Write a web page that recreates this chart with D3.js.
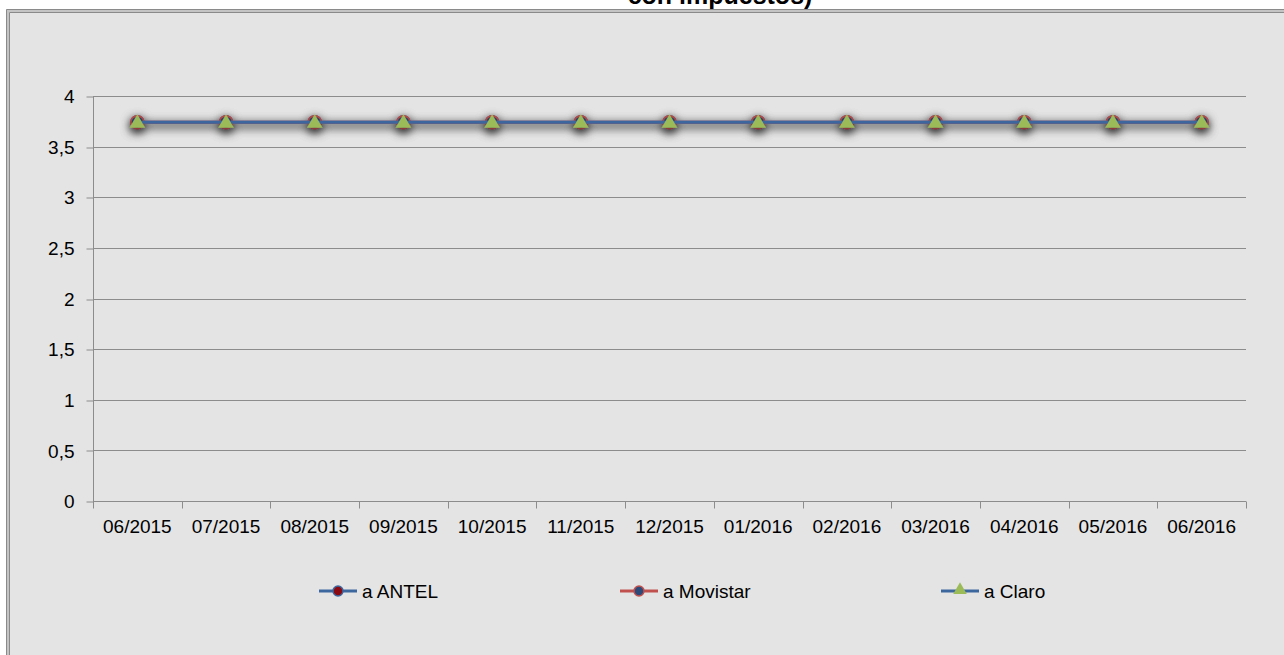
<!DOCTYPE html>
<html><head><meta charset="utf-8">
<script src="https://cdn.jsdelivr.net/npm/d3@7"></script>
<style>html,body{margin:0;padding:0;background:#fff;overflow:hidden}svg{display:block}</style>
</head><body>
<script>
const categories = ["06/2015","07/2015","08/2015","09/2015","10/2015","11/2015","12/2015","01/2016","02/2016","03/2016","04/2016","05/2016","06/2016"];
const antel    = [3.74,3.74,3.74,3.74,3.74,3.74,3.74,3.74,3.74,3.74,3.74,3.74,3.74];
const movistar = [3.74,3.74,3.74,3.74,3.74,3.74,3.74,3.74,3.74,3.74,3.74,3.74,3.74];
const claro    = [3.74,3.74,3.74,3.74,3.74,3.74,3.74,3.74,3.74,3.74,3.74,3.74,3.74];
const yTicks = [0,0.5,1,1.5,2,2.5,3,3.5,4];
const seriesNames = ["a ANTEL","a Movistar","a Claro"];
const titleText = "con impuestos)";

const W = 1284, H = 655;
const svg = d3.select("body").append("svg").attr("width", W).attr("height", H);
const FONT = "'Liberation Sans', Arial, sans-serif";

const defs = svg.append("defs");
const f = defs.append("filter").attr("id","shadow").attr("filterUnits","userSpaceOnUse")
  .attr("x",0).attr("y",0).attr("width",W).attr("height",H);
f.append("feDropShadow").attr("dx",0).attr("dy",3).attr("stdDeviation",5).attr("flood-color","#000").attr("flood-opacity",0.5);

// chart frame
svg.append("rect").attr("x",6).attr("y",9).attr("width",W).attr("height",H).attr("fill","#e4e4e4");
svg.append("path").attr("d",`M6.5,${H} V9.5 H${W}`).attr("fill","none").attr("stroke","#8a8a8a").attr("stroke-width",1);
svg.append("path").attr("d",`M8,${H} V11 H${W}`).attr("fill","none").attr("stroke","#c4c4c4").attr("stroke-width",2);
svg.append("path").attr("d",`M9.5,${H} V12.5 H${W}`).attr("fill","none").attr("stroke","#8a8a8a").attr("stroke-width",1);

// title (cut off at top, as in the reference)
svg.append("text").attr("x",720).attr("y",4).attr("text-anchor","middle")
  .attr("font-family",FONT).attr("font-weight","bold").attr("font-size",25).attr("fill","#000").text(titleText);

const x = d3.scaleBand().domain(categories).range([93,1246]);
const y = d3.scaleLinear().domain([0,4]).range([501,96]);

const grid = "#8c8c8c";
svg.append("g").selectAll("line").data(yTicks.filter(d=>d>0)).join("line")
  .attr("x1",93).attr("x2",1246).attr("y1",d=>Math.round(y(d))+0.5).attr("y2",d=>Math.round(y(d))+0.5)
  .attr("stroke",grid).attr("stroke-width",1);

const yAxis = svg.append("g").attr("transform","translate(93.5,0)")
  .call(d3.axisLeft(y).tickValues(yTicks).tickSize(7).tickPadding(12).tickFormat(d=>String(d).replace(".",",")));
yAxis.selectAll("line").attr("stroke",grid).attr("transform",d=>`translate(0,${Math.round(y(d))+0.5-y(d)})`);
yAxis.select(".domain").attr("stroke",grid).attr("d",`M0,96V501.5`);
yAxis.selectAll("text").attr("font-family",FONT).attr("font-size",19).attr("fill","#000").attr("dy","0.35em");

const xAxis = svg.append("g").attr("transform","translate(0,501.5)");
xAxis.append("line").attr("x1",93).attr("x2",1246).attr("stroke",grid);
const bounds = categories.map(c=>x(c)).concat([x.range()[1]]);
xAxis.selectAll("line.tk").data(bounds).join("line").attr("class","tk")
  .attr("x1",d=>Math.round(d)+0.5).attr("x2",d=>Math.round(d)+0.5).attr("y1",0).attr("y2",7).attr("stroke",grid);
xAxis.selectAll("text").data(categories).join("text")
  .attr("x",d=>x(d)+x.bandwidth()/2).attr("y",31).attr("text-anchor","middle")
  .attr("font-family",FONT).attr("font-size",19).attr("fill","#000").text(d=>d);

const cx = (d,i)=>x(categories[i])+x.bandwidth()/2;
const line = d3.line().x((d,i)=>cx(d,i)).y(d=>y(d));

const styles = [
  {data:antel, line:"#3c669e", marker:"circle", fill:"#8b0a12", stroke:"#3c669e"},
  {data:movistar, line:"#c0504d", marker:"circle", fill:"#2b4a7a", stroke:"#c0504d"},
  {data:claro, line:"#3c669e", marker:"triangle", fill:"#9bbb59", stroke:"#9bbb59"}
];
const tri = d3.symbol().type(d3.symbolTriangle).size(105);
const triLeg = d3.symbol().type(d3.symbolTriangle).size(80);

styles.forEach(s=>{
  const g = svg.append("g").attr("filter","url(#shadow)");
  g.append("path").datum(s.data).attr("d",line).attr("fill","none").attr("stroke",s.line).attr("stroke-width",3);
  if (s.marker==="circle") {
    g.selectAll("circle").data(s.data).join("circle").attr("cx",cx).attr("cy",d=>y(d)).attr("r",6.5)
      .attr("fill",s.fill).attr("stroke",s.stroke).attr("stroke-width",1.75);
  } else {
    g.selectAll("path.m").data(s.data).join("path").attr("class","m").attr("d",tri)
      .attr("transform",(d,i)=>`translate(${cx(d,i)},${y(d)+1})`).attr("fill",s.fill);
  }
});

const legX = [319, 620, 941];
const legY = 591;
styles.forEach((s,i)=>{
  const g = svg.append("g").attr("transform",`translate(${legX[i]},${legY})`);
  g.append("line").attr("x1",0).attr("x2",38).attr("stroke",s.line).attr("stroke-width",3);
  if (s.marker==="circle") g.append("circle").attr("cx",19).attr("r",5).attr("fill",s.fill).attr("stroke",s.stroke).attr("stroke-width",1.5);
  else g.append("path").attr("d",triLeg).attr("transform","translate(19,-1)").attr("fill",s.fill);
  g.append("text").attr("x",43).attr("y",0).attr("dy","0.35em").attr("font-family",FONT).attr("font-size",19).attr("fill","#000").text(seriesNames[i]);
});
</script>
</body></html>
